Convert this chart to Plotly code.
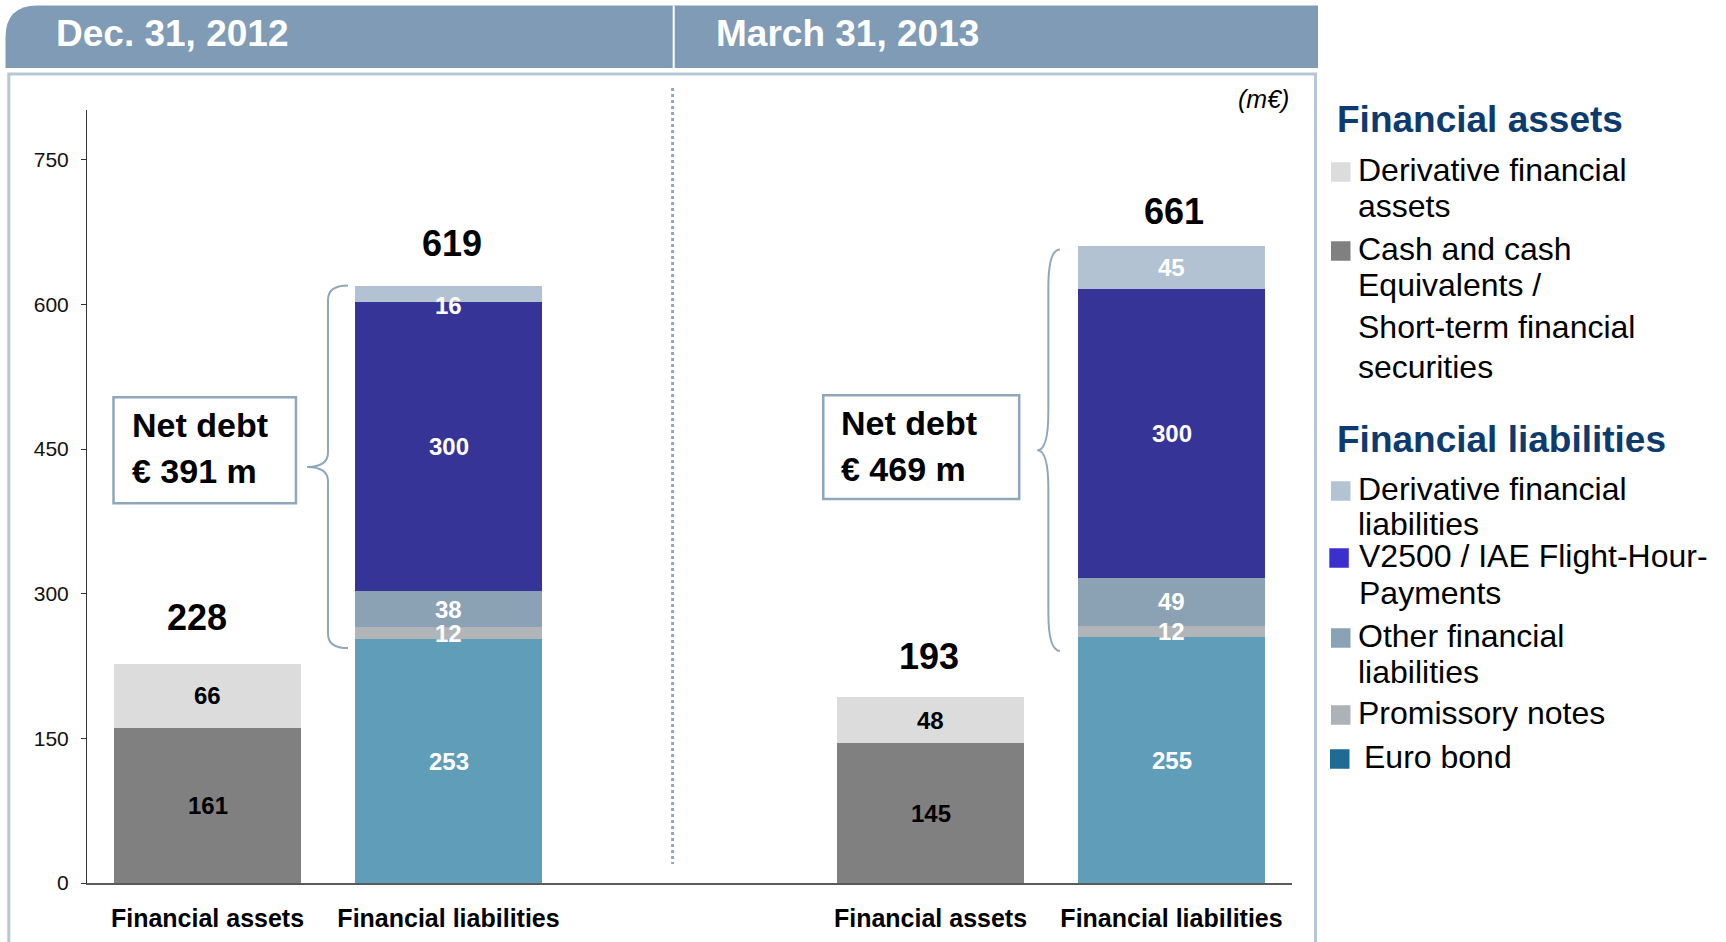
import plotly.graph_objects as go

# ---------------------------------------------------------------- data (m€)
periods = ["Dec. 31, 2012", "March 31, 2013"]
category_labels = ["Financial assets", "Financial liabilities"]

# Financial assets
cash = [161, 145]
deriv_assets = [66, 48]
total_assets = [228, 193]

# Financial liabilities
euro_bond = [253, 255]
promissory = [12, 12]
other_liab = [38, 49]
v2500 = [300, 300]
deriv_liab = [16, 45]
total_liab = [619, 661]

net_debt = [391, 469]

y_ticks = [0, 150, 300, 450, 600, 750]

# ---------------------------------------------------------------- styling
FONT = "Liberation Sans, Arial, sans-serif"
W, H = 1726, 942
PLOT_L, PLOT_R, PLOT_T, PLOT_B = 87, 1292, 110, 883
Y_MAX = 801.6
BAR_W = 0.772
HEADER_COLOR = "#7f9bb5"
FRAME_COLOR = "#b7c7d7"
ACCENT = "#8ea7bd"
NAVY = "#0d3b6e"
PAD = 3  # annotation text padding inside its box

# x positions of the four stacks (assets / liabilities per period)
asset_x = [0, 3]
liab_x = [1, 4]

asset_series = [
    ("Cash and cash Equivalents / Short-term financial securities", cash, "#808080"),
    ("Derivative financial assets", deriv_assets, "#dcdcdc"),
]
liab_series = [
    ("Euro bond", euro_bond, "#5f9db8"),
    ("Promissory notes", promissory, "#b1b5b9"),
    ("Other financial liabilities", other_liab, "#8ba2b5"),
    ("V2500 / IAE Flight-Hour-Payments", v2500, "#363496"),
    ("Derivative financial liabilities", deriv_liab, "#b2c2d2"),
]


def px(x):
    return (x - PLOT_L) / (PLOT_R - PLOT_L)


def py(y):
    return (PLOT_B - y) / (PLOT_B - PLOT_T)


fig = go.Figure()
annotations = []
shapes = []

# ---------------------------------------------------------------- stacked bars
for xs, series, txt_color in ((asset_x, asset_series, "#000000"),
                              (liab_x, liab_series, "#ffffff")):
    base = [0] * len(xs)
    for idx, (name, vals, color) in enumerate(series):
        fig.add_trace(go.Bar(
            x=xs, y=vals, name=name, width=BAR_W,
            marker=dict(color=color, line=dict(width=0)),
            showlegend=False, hovertemplate="%{y}<extra>" + name + "</extra>",
        ))
        for k, (x, v) in enumerate(zip(xs, vals)):
            shift = 0
            if idx == len(series) - 1 and v < 20:
                shift = -12
            annotations.append(dict(
                x=x, y=base[k] + v / 2, xref="x", yref="y", text=str(v),
                showarrow=False, yshift=shift, yanchor="middle",
                font=dict(family=FONT, size=24, color=txt_color, weight="bold"),
            ))
            base[k] += v

# totals above each stack
total_shift_y = [46, 43, 40, 34]
total_shift_x = [-11, 3, -2, 2]
for j, (x, t) in enumerate(zip([asset_x[0], liab_x[0], asset_x[1], liab_x[1]],
                               [total_assets[0], total_liab[0], total_assets[1], total_liab[1]])):
    annotations.append(dict(
        x=x, y=t, xref="x", yref="y", text=str(t), showarrow=False,
        yanchor="middle", yshift=total_shift_y[j], xshift=total_shift_x[j],
        font=dict(family=FONT, size=36, color="#000000", weight="bold"),
    ))

# ---------------------------------------------------------------- net debt boxes and braces
box_x = [(-0.39, 0.367), (2.555, 3.368)]
box_top = [503.8, 505.9]
box_bottom = [393.9, 398.3]
for i in range(2):
    x0, x1 = box_x[i]
    shapes.append(dict(type="rect", xref="x", yref="y", x0=x0, x1=x1,
                       y0=box_bottom[i], y1=box_top[i],
                       line=dict(color=ACCENT, width=2.5), fillcolor="#ffffff", layer="above"))
    for line_txt, dy in (("Net debt", 29), (f"€ {net_debt[i]} m", 77)):
        annotations.append(dict(
            x=x0, y=box_top[i] - dy, xref="x", yref="y", text=line_txt,
            showarrow=False, xanchor="left", yanchor="middle", xshift=19 - PAD,
            font=dict(family=FONT, size=34, color="#000000", weight="bold"),
        ))


def brace(x_end, x_mid, x_tip, y_top, y_bot, y_tip, r):
    return (f"M{x_end},{y_top} Q{x_mid},{y_top} {x_mid},{y_top - r} "
            f"L{x_mid},{y_tip + r} Q{x_mid},{y_tip} {x_tip},{y_tip} "
            f"Q{x_mid},{y_tip} {x_mid},{y_tip - r} "
            f"L{x_mid},{y_bot + r} Q{x_mid},{y_bot} {x_end},{y_bot}")


brace_geom = [
    (0.583, 0.5, 0.413, 619.7, 243.6, 431.4, 15),
    (3.537, 3.489, 3.443, 657.0, 240.7, 448.8, 40),
]
for g in brace_geom:
    shapes.append(dict(type="path", xref="x", yref="y", path=brace(*g),
                       line=dict(color=ACCENT, width=2)))

# dotted separator between the two periods
shapes.append(dict(type="line", xref="paper", yref="paper",
                   x0=px(672.6), x1=px(672.6), y0=py(88), y1=py(864),
                   line=dict(color=ACCENT, width=3, dash="dot")))

# ---------------------------------------------------------------- header band and frame
hx0, hx1, hy0, hy1, hr = 5.5, 1318, 5.5, 68, 32
shapes.append(dict(
    type="path", xref="paper", yref="paper", fillcolor=HEADER_COLOR,
    line=dict(width=0), layer="below",
    path=(f"M{px(hx0)},{py(hy1)} L{px(hx0)},{py(hy0 + hr)} "
          f"Q{px(hx0)},{py(hy0)} {px(hx0 + hr)},{py(hy0)} "
          f"L{px(hx1)},{py(hy0)} L{px(hx1)},{py(hy1)} Z"),
))
shapes.append(dict(type="line", xref="paper", yref="paper",
                   x0=px(673.7), x1=px(673.7), y0=py(hy0), y1=py(hy1),
                   line=dict(color="#ffffff", width=2)))
shapes.append(dict(type="rect", xref="paper", yref="paper",
                   x0=px(8.8), x1=px(1315.5), y0=py(74), y1=py(970),
                   line=dict(color=FRAME_COLOR, width=3), layer="below"))

header_x = [57.3, 716.6]
for label, hx in zip(periods, header_x):
    annotations.append(dict(
        x=px(hx - PAD), y=py(33), xref="paper", yref="paper", text=label,
        showarrow=False, xanchor="left", yanchor="middle",
        font=dict(family=FONT, size=37, color="#ffffff", weight="bold"),
    ))

annotations.append(dict(
    x=px(1288 + PAD), y=py(99), xref="paper", yref="paper", text="<i>(m€)</i>",
    showarrow=False, xanchor="right", yanchor="middle",
    font=dict(family=FONT, size=25, color="#000000"),
))

# ---------------------------------------------------------------- legend
legend_headings = ["Financial assets", "Financial liabilities"]
heading_y = [120, 439]
legend_items = [
    (["Derivative financial", "assets"], "#dcdcdc"),
    (["Cash and cash", "Equivalents /", "Short-term financial", "securities"], "#808080"),
    (["Derivative financial", "liabilities"], "#b3c3d3"),
    (["V2500 / IAE Flight-Hour-", "Payments"], "#3b30cf"),
    (["Other financial", "liabilities"], "#8aa2b6"),
    (["Promissory notes"], "#adb2b6"),
    (["Euro bond"], "#1f6b94"),
]
item_line_y = [[170, 206], [249, 285, 327, 367], [489, 524], [556, 593],
               [636, 672], [713], [757]]
item_text_x = [1359.5, 1359.5, 1359.5, 1360.7, 1359.5, 1359.5, 1366]
item_square_x = [1331, 1331, 1331, 1329.3, 1331, 1331, 1330]
SQ = 19.5

for text, hy in zip(legend_headings, heading_y):
    annotations.append(dict(
        x=px(1337.5 - PAD), y=py(hy), xref="paper", yref="paper", text=text,
        showarrow=False, xanchor="left", yanchor="middle",
        font=dict(family=FONT, size=37, color=NAVY, weight="bold"),
    ))

for (lines, color), ys, tx, sx in zip(legend_items, item_line_y, item_text_x, item_square_x):
    cy = ys[0] + 2
    shapes.append(dict(type="rect", xref="paper", yref="paper",
                       x0=px(sx), x1=px(sx + SQ), y0=py(cy + SQ / 2), y1=py(cy - SQ / 2),
                       fillcolor=color, line=dict(width=0)))
    for ln, ly in zip(lines, ys):
        annotations.append(dict(
            x=px(tx - PAD), y=py(ly), xref="paper", yref="paper", text=ln,
            showarrow=False, xanchor="left", yanchor="middle", borderpad=0,
            font=dict(family=FONT, size=32, color="#000000"),
        ))

# ---------------------------------------------------------------- layout
fig.update_layout(
    width=W, height=H,
    margin=dict(l=PLOT_L, r=W - PLOT_R, t=PLOT_T, b=H - PLOT_B, pad=0, autoexpand=False),
    paper_bgcolor="#ffffff", plot_bgcolor="#ffffff",
    barmode="stack", bargap=0,
    showlegend=False,
    annotations=annotations, shapes=shapes,
    xaxis=dict(
        range=[-0.5, 4.5], tickvals=asset_x + liab_x,
        ticktext=[category_labels[0]] * 2 + [category_labels[1]] * 2,
        showline=True, linecolor="#5a5a5a", linewidth=1.5,
        ticks="", showgrid=False, zeroline=False, fixedrange=True,
        automargin=False, ticklabelstandoff=12,
        tickfont=dict(family=FONT, size=25, color="#000000", weight="bold"),
    ),
    yaxis=dict(
        range=[0, Y_MAX], tickvals=y_ticks,
        showline=True, linecolor="#333333", linewidth=1,
        ticks="outside", ticklen=5, tickcolor="#333333", tickwidth=1,
        showgrid=False, zeroline=False, fixedrange=True,
        automargin=False, ticklabelstandoff=8,
        tickfont=dict(family=FONT, size=21, color="#111111"),
    ),
)

fig.write_html("out.html")
